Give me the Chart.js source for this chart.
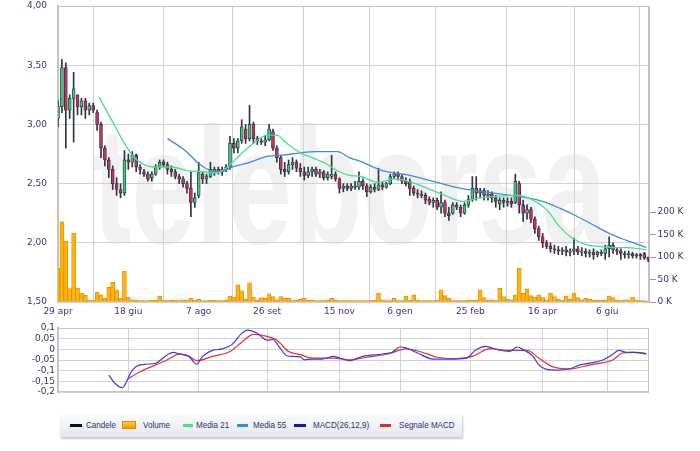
<!DOCTYPE html>
<html>
<head>
<meta charset="utf-8">
<script src="https://cdn.jsdelivr.net/npm/chart.js@4/dist/chart.umd.min.js"></script>
<style>
  body { margin: 0; background: #fff; width: 700px; height: 451px; position: relative; overflow: hidden; }
  canvas { position: absolute; left: 0; }
  #legend { position: absolute; left: 60px; top: 414px; width: 402px; height: 23px;
    background: linear-gradient(#fbfcfd, #e3e7ee); box-shadow: 1px 2px 2px rgba(0,0,0,0.22); }
  .sw { position: absolute; height: 3px; top: 10px; }
  .lbl { position: absolute; top: 5px; font: 9.5px "Liberation Sans", Arial, sans-serif; color: #2f2f78;
    transform: scaleX(0.85); transform-origin: left; white-space: nowrap; }
</style>
</head>
<body>
<canvas id="main" width="700" height="320" style="top:0"></canvas>
<canvas id="macd" width="700" height="80" style="top:320px"></canvas>
<div id="legend">
  <div class="sw" style="left:10px;width:12px;background:#111"></div><div class="lbl" style="left:26px">Candele</div>
  <div class="sw" style="left:62px;width:14px;height:8px;top:7px;background:linear-gradient(#ffd23a,#f59a00);border:1px solid #e08a00;box-sizing:border-box"></div><div class="lbl" style="left:83px">Volume</div>
  <div class="sw" style="left:123px;width:10px;background:#44e08c"></div><div class="lbl" style="left:136px">Media 21</div>
  <div class="sw" style="left:177px;width:11px;background:#3a8ee0"></div><div class="lbl" style="left:193px">Media 55</div>
  <div class="sw" style="left:234px;width:12px;background:#1a1aa0"></div><div class="lbl" style="left:253px">MACD(26,12,9)</div>
  <div class="sw" style="left:320px;width:11px;background:#dd2a2a"></div><div class="lbl" style="left:339px">Segnale MACD</div>
</div>
<script>
// x positions are trading-day indexes from 29 apr
const tickDays = [0, 36, 72, 107, 144, 175, 211, 248, 281];
const tickLabels = ['29 apr', '18 giu', '7 ago', '26 set', '15 nov', '6 gen', '25 feb', '16 apr', '6 giu'];

const candleDays = [0,2,4,6,8,10,12,14,16,18, 20,22,24,26,28,30,32,34,36,38,
  40,42,44,46,48,50,52,54,56,58, 60,62,64,66,68,70,72,74,76,78,
  80,82,84,86,88,90,92,94,96,98, 100,102,104,106,108,110,112,114,116,118,
  120,122,124,126,128,130,132,134,136,138, 140,142,144,146,148,150,152,154,156,158,
  160,162,164,166,168,170,172,174,176,178, 180,182,184,186,188,190,192,194,196,198,
  200,202,204,206,208,210,212,214,216,218, 220,222,224,226,228,230,232,234,236,238,
  240,242,244,246,248,250,252,254,256,258, 260,262,264,266,268,270,272,274,276,278,
  280,282,284,286,288,290,292,294,296,298, 300,302];
const opens = [3.05,3.15,3.48,3.12,3.22,3.25,3.15,3.20,3.12,3.16, 3.10,3.00,2.80,2.70,2.62,2.50,2.45,2.42,2.70,2.68,
  2.74,2.64,2.60,2.58,2.55,2.58,2.64,2.68,2.66,2.62, 2.60,2.56,2.54,2.50,2.46,2.34,2.40,2.58,2.54,2.56,
  2.60,2.62,2.60,2.62,2.64,2.84,2.80,2.86,2.96,2.88, 3.00,2.88,2.86,2.85,2.87,2.94,2.80,2.72,2.62,2.60,
  2.66,2.68,2.63,2.60,2.57,2.60,2.62,2.58,2.60,2.55, 2.56,2.58,2.54,2.46,2.48,2.46,2.48,2.47,2.52,2.48,
  2.43,2.47,2.45,2.49,2.47,2.50,2.56,2.58,2.56,2.52, 2.52,2.46,2.42,2.41,2.40,2.37,2.34,2.36,2.30,2.34,
  2.25,2.25,2.32,2.30,2.25,2.32,2.37,2.46,2.42,2.44, 2.40,2.41,2.38,2.33,2.36,2.34,2.35,2.34,2.50,2.32,
  2.25,2.28,2.20,2.12,2.05,2.00,1.97,1.95,1.94,1.93, 1.94,1.92,1.93,1.95,1.92,1.93,1.91,1.92,1.90,1.92,
  1.91,1.95,1.98,1.94,1.93,1.91,1.90,1.91,1.89,1.90, 1.91,1.88];
const highs = [3.20,3.55,3.52,3.25,3.44,3.25,3.22,3.22,3.18,3.18, 3.12,3.02,2.82,2.72,2.65,2.55,2.50,2.78,2.75,2.77,
  2.75,2.66,2.62,2.60,2.60,2.66,2.70,2.70,2.68,2.65, 2.62,2.58,2.56,2.52,2.60,2.42,2.68,2.60,2.58,2.68,
  2.64,2.64,2.64,2.66,2.90,2.88,2.88,3.04,3.00,3.16, 3.02,2.90,2.88,2.90,3.00,2.96,2.82,2.74,2.68,2.70,
  2.72,2.70,2.67,2.64,2.64,2.64,2.64,2.62,2.61,2.60, 2.74,2.60,2.55,2.50,2.50,2.50,2.52,2.60,2.54,2.50,
  2.49,2.50,2.63,2.51,2.51,2.58,2.60,2.60,2.57,2.55, 2.54,2.48,2.45,2.44,2.42,2.39,2.38,2.38,2.43,2.36,
  2.30,2.34,2.34,2.32,2.34,2.40,2.56,2.56,2.46,2.46, 2.44,2.43,2.40,2.38,2.38,2.38,2.38,2.58,2.52,2.36,
  2.32,2.30,2.22,2.14,2.08,2.02,2.00,1.98,1.97,1.96, 1.97,1.95,2.04,1.97,1.96,1.95,1.94,1.95,1.93,1.94,
  1.98,2.05,2.00,1.96,1.95,1.93,1.93,1.92,1.91,1.91, 1.92,1.88];
const lows = [2.98,3.10,2.80,3.05,2.85,3.08,3.08,3.05,3.08,3.10, 2.95,2.72,2.65,2.55,2.45,2.40,2.38,2.40,2.62,2.64,
  2.60,2.58,2.56,2.52,2.52,2.57,2.62,2.64,2.58,2.56, 2.54,2.50,2.47,2.42,2.22,2.30,2.38,2.50,2.50,2.55,
  2.57,2.58,2.57,2.60,2.62,2.76,2.76,2.84,2.84,2.86, 2.84,2.83,2.83,2.82,2.86,2.78,2.68,2.58,2.56,2.58,
  2.62,2.60,2.56,2.53,2.55,2.56,2.56,2.55,2.53,2.53, 2.54,2.52,2.42,2.43,2.44,2.44,2.45,2.45,2.45,2.39,
  2.42,2.43,2.44,2.45,2.46,2.49,2.54,2.53,2.50,2.48, 2.40,2.40,2.38,2.38,2.33,2.32,2.30,2.28,2.25,2.22,
  2.19,2.24,2.28,2.22,2.24,2.30,2.35,2.36,2.38,2.36, 2.36,2.34,2.30,2.28,2.30,2.31,2.30,2.33,2.25,2.18,
  2.20,2.17,2.08,2.02,1.96,1.95,1.92,1.91,1.90,1.90, 1.89,1.89,1.90,1.90,1.89,1.88,1.88,1.86,1.88,1.89,
  1.86,1.88,1.91,1.90,1.86,1.87,1.87,1.87,1.87,1.86, 1.86,1.84];
const closes = [3.15,3.48,3.12,3.22,3.30,3.15,3.20,3.12,3.16,3.12, 3.00,2.80,2.70,2.62,2.50,2.45,2.42,2.70,2.68,2.74,
  2.64,2.62,2.58,2.54,2.58,2.64,2.68,2.66,2.62,2.60, 2.56,2.54,2.50,2.46,2.34,2.38,2.60,2.54,2.56,2.62,
  2.62,2.60,2.62,2.64,2.84,2.80,2.86,2.98,2.88,3.00, 2.88,2.86,2.85,2.87,2.96,2.80,2.72,2.62,2.60,2.66,
  2.68,2.63,2.60,2.57,2.60,2.62,2.58,2.60,2.55,2.58, 2.58,2.54,2.46,2.48,2.46,2.48,2.47,2.52,2.48,2.43,
  2.47,2.45,2.49,2.47,2.50,2.56,2.58,2.56,2.52,2.50, 2.46,2.42,2.41,2.40,2.36,2.34,2.36,2.30,2.34,2.25,
  2.23,2.32,2.30,2.25,2.32,2.37,2.46,2.42,2.44,2.40, 2.41,2.38,2.35,2.36,2.34,2.35,2.33,2.52,2.32,2.25,
  2.28,2.20,2.12,2.05,2.00,1.97,1.95,1.94,1.93,1.94, 1.92,1.93,1.95,1.92,1.93,1.91,1.92,1.90,1.92,1.91,
  1.95,1.98,1.94,1.93,1.91,1.90,1.91,1.89,1.90,1.89, 1.87,1.86];
// volume in thousands
const volumes = [75,178,135,30,153,31,20,15,5,4, 22,16,8,33,44,27,8,69,11,5,
  4,3,3,3,5,4,13,4,3,5, 4,3,5,4,8,4,6,3,3,4,
  4,3,3,5,13,11,38,25,6,42, 11,4,10,8,18,12,5,12,8,8,
  3,4,6,8,4,5,3,3,3,4, 8,5,3,3,3,3,3,3,3,3,
  3,4,20,5,3,3,8,3,3,13, 4,16,5,3,3,3,3,4,27,14,
  8,3,3,3,3,4,4,5,27,10, 4,4,3,31,12,6,5,16,75,19,
  29,14,11,16,10,5,20,12,6,4, 13,6,20,10,5,8,6,4,4,4,
  5,13,10,4,3,5,5,11,4,3, 3,2];

const ma21Days = [21,29,34,39,44,49,58,66,74,81,86,93,100,107,112,117,124,130,137,144,
  149,155,164,172,181,189,198,207,216,223,235,243,250,257,263,271,277,284,291,301];
const ma21 = [3.23,2.99,2.84,2.72,2.66,2.64,2.64,2.61,2.60,2.59,2.63,2.74,2.84,2.91,2.91,2.84,2.76,2.72,2.67,2.60,
  2.57,2.56,2.51,2.54,2.51,2.46,2.40,2.35,2.38,2.39,2.40,2.36,2.28,2.13,2.04,1.98,1.97,1.96,1.96,1.94];
const ma55Days = [56,65,72,78,83,89,98,107,115,124,132,143,149,156,166,180,194,206,223,240,248,257,266,274,282,291,301];
const ma55 = [2.88,2.78,2.67,2.61,2.60,2.64,2.68,2.73,2.74,2.76,2.77,2.77,2.72,2.68,2.61,2.57,2.51,2.46,2.42,2.38,
  2.35,2.29,2.22,2.15,2.08,2.02,1.96];

const macdDays = [26,29,33,35,37,40,45,50,56,59,62,67,71,74,79,84,89,94,97,102,107,110,113,117,120,124,126,130,135,141,
  146,149,156,166,171,175,178,184,192,200,209,214,219,225,231,235,238,243,246,250,255,262,267,272,279,284,287,291,296,301];
const macd = [-0.121,-0.158,-0.18,-0.153,-0.113,-0.081,-0.07,-0.065,-0.025,-0.014,-0.021,-0.033,-0.07,-0.033,-0.005,
  0.002,0.022,0.075,0.09,0.075,0.043,0.046,0.014,-0.03,-0.033,-0.035,-0.049,-0.046,-0.046,-0.033,
  -0.046,-0.053,-0.033,-0.022,-0.014,0.011,0.007,-0.017,-0.046,-0.046,-0.041,-0.001,0.014,-0.002,-0.01,
  0.011,-0.001,-0.033,-0.073,-0.094,-0.097,-0.091,-0.073,-0.065,-0.049,-0.022,-0.005,-0.014,-0.014,-0.021];
const signalDays = [36,42,50,56,62,67,71,79,88,94,100,105,112,118,124,130,141,149,158,169,178,185,194,204,212,221,
  231,240,246,253,262,272,284,289,294,301];
const signal = [-0.137,-0.105,-0.073,-0.049,-0.022,-0.033,-0.053,-0.033,-0.01,0.033,0.07,0.065,0.043,-0.01,-0.025,
  -0.041,-0.041,-0.049,-0.037,-0.022,0.002,-0.01,-0.037,-0.043,-0.033,0.003,-0.005,-0.005,-0.041,-0.081,
  -0.092,-0.073,-0.049,-0.017,-0.014,-0.021];

const labelColor = '#35357a';
const gridColor = '#d2d2d2';
const tickFont = { family: 'DejaVu Sans', size: 9, lineHeight: 1 };
const xMax = 302.4;

const pairs = (xs, ys) => xs.map((x, i) => ({ x: x, y: ys[i] }));
const setXTicks = s => { s.ticks = tickDays.map(v => ({ value: v })); };

const watermark = {
  id: 'watermark',
  beforeDraw(chart) {
    const c = chart.ctx;
    c.save();
    c.fillStyle = 'rgba(0,0,0,0.055)';
    c.font = 'bold 165px "Liberation Sans"';
    c.translate(93, 243);
    c.scale(0.7, 1);
    c.fillText('teleborsa', 0, 0);
    c.restore();
  }
};
const frame = {
  id: 'frame',
  beforeDatasetsDraw(chart) {
    const a = chart.chartArea, c = chart.ctx;
    c.save();
    c.strokeStyle = '#c4c4c4';
    c.lineWidth = 1;
    c.strokeRect(a.left + 0.5, a.top + 0.5, a.right - a.left - 1, a.bottom - a.top - 1);
    c.restore();
  }
};

new Chart(document.getElementById('main').getContext('2d'), {
  type: 'bar',
  data: {
    datasets: [
      {
        type: 'line', label: 'Media 21', data: pairs(ma21Days, ma21), yAxisID: 'y',
        borderColor: '#44e08c', borderWidth: 1.3, pointRadius: 0, cubicInterpolationMode: 'monotone', order: 0
      },
      {
        type: 'line', label: 'Media 55', data: pairs(ma55Days, ma55), yAxisID: 'y',
        borderColor: '#3a8ee0', borderWidth: 1.3, pointRadius: 0, cubicInterpolationMode: 'monotone', order: 0
      },
      {
        label: 'Corpo', data: candleDays.map((d, i) => ({ x: d, y: [opens[i], closes[i]] })), yAxisID: 'y',
        backgroundColor: candleDays.map((d, i) => closes[i] >= opens[i] ? '#3dc978' : '#c8325a'),
        borderColor: '#2a3040', borderWidth: 0.8, borderSkipped: false, barThickness: 3, grouped: false, order: 1
      },
      {
        label: 'Candele', data: candleDays.map((d, i) => ({ x: d, y: [lows[i], highs[i]] })), yAxisID: 'y',
        backgroundColor: '#2e3446', borderWidth: 0, barThickness: 1, grouped: false, order: 2
      },
      {
        label: 'Volume', data: candleDays.map((d, i) => ({ x: d, y: volumes[i] * 1000 })), yAxisID: 'yVol',
        backgroundColor: '#fbb412', borderColor: '#e98a00', borderWidth: 0.8, borderSkipped: 'bottom',
        barThickness: 4, grouped: false, order: 5
      }
    ]
  },
  options: {
    responsive: false,
    animation: false,
    layout: { padding: { top: 6, left: 0, right: 0, bottom: 0 } },
    plugins: { legend: { display: false }, tooltip: { enabled: false } },
    scales: {
      x: {
        type: 'linear', min: 0, max: xMax, offset: false,
        afterBuildTicks: setXTicks,
        afterFit: s => { s.height = 18; },
        ticks: { callback: (v, i) => tickLabels[i], color: labelColor, font: tickFont, padding: 5, maxRotation: 0, autoSkip: false },
        grid: { color: gridColor, drawTicks: false },
        border: { display: false }
      },
      y: {
        position: 'left', min: 1.5, max: 4,
        afterFit: s => { s.width = 58; },
        ticks: { stepSize: 0.5, callback: v => v.toFixed(2).replace('.', ','), color: labelColor, font: tickFont, padding: 1.5, autoSkip: false },
        grid: { color: gridColor, drawTicks: true, tickLength: 9.5, tickColor: 'rgba(0,0,0,0)' },
        border: { color: '#c4c4c4', width: 2 }
      },
      yVol: {
        position: 'right', min: 0, max: 658000,
        afterBuildTicks: s => { s.ticks = [0, 50000, 100000, 150000, 200000].map(v => ({ value: v })); },
        afterFit: s => { s.width = 51; },
        ticks: { callback: v => (v / 1000) + ' K', color: labelColor, font: tickFont, padding: 1.5, autoSkip: false },
        grid: { drawOnChartArea: false, tickLength: 7, tickColor: '#9a9a9a', color: '#9a9a9a' },
        border: { color: '#c4c4c4' }
      }
    }
  },
  plugins: [watermark, frame]
});

new Chart(document.getElementById('macd').getContext('2d'), {
  type: 'line',
  data: {
    datasets: [
      { label: 'MACD(26,12,9)', data: pairs(macdDays, macd), borderColor: '#3b3be8', borderWidth: 1.2, pointRadius: 0, cubicInterpolationMode: 'monotone' },
      { label: 'Segnale MACD', data: pairs(signalDays, signal), borderColor: '#e8302a', borderWidth: 1.2, pointRadius: 0, cubicInterpolationMode: 'monotone' }
    ]
  },
  options: {
    responsive: false,
    animation: false,
    layout: { padding: { top: 8, left: 0, right: 51, bottom: 0 } },
    plugins: { legend: { display: false }, tooltip: { enabled: false } },
    scales: {
      x: {
        type: 'linear', min: 0, max: xMax,
        afterBuildTicks: setXTicks,
        afterFit: s => { s.height = 8; },
        ticks: { display: false },
        grid: { color: gridColor, drawTicks: false },
        border: { display: false }
      },
      y: {
        min: -0.2, max: 0.1,
        afterFit: s => { s.width = 58; },
        ticks: {
          stepSize: 0.05, color: labelColor, font: tickFont, padding: 3, autoSkip: false,
          callback: v => String(Math.round(v * 100) / 100).replace('.', ',')
        },
        grid: { color: gridColor, drawTicks: false },
        border: { color: '#c4c4c4', width: 2 }
      }
    }
  },
  plugins: [frame]
});
</script>
</body>
</html>
